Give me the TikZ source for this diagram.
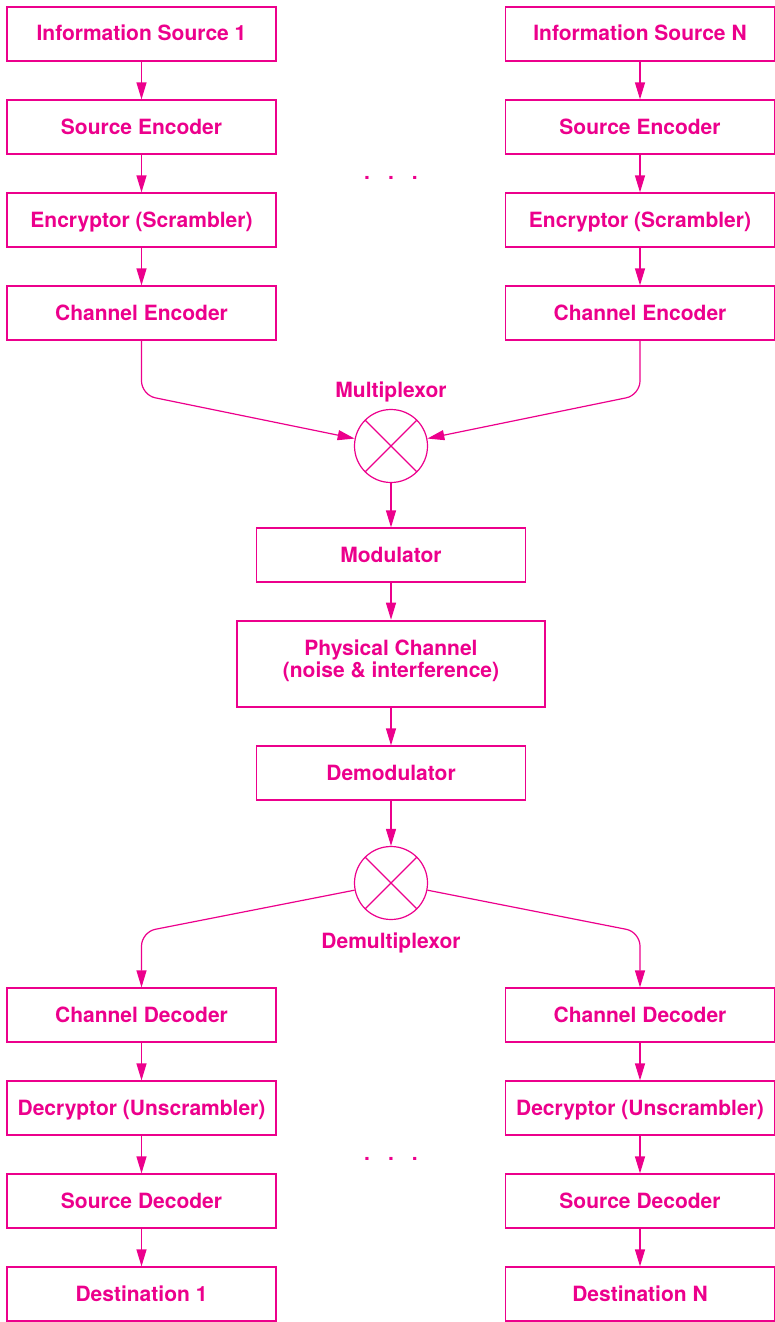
\documentclass[tikz,border=0pt]{standalone}
\usepackage{fontspec}
\setmainfont{TeX Gyre Heros}
\usetikzlibrary{arrows.meta}
\definecolor{kmag}{HTML}{EC008C}
\tikzset{
blk/.style={draw=kmag,text=kmag,line width=1.2pt,minimum width=269pt,minimum height=54pt,inner sep=0pt,align=center,text height=14pt,text depth=0pt,font=\fontsize{21}{22}\selectfont\bfseries},
mux/.style={draw=kmag,line width=1.2pt,circle,minimum size=73pt,inner sep=0pt},
lbl/.style={text=kmag,inner sep=0pt,font=\fontsize{21}{24}\selectfont\bfseries},
lnk/.style={draw=kmag,line width=1.2pt,rounded corners=14pt,-{Triangle[length=17pt,width=10pt]}}
}
\begin{document}
\begin{tikzpicture}[x=1pt,y=-1pt]
\useasboundingbox (0,0) rectangle (775,1322);
\pgfmathsetmacro{\kystep}{93}
\pgfmathsetmacro{\kmid}{391}
\foreach \kc/\kx/\klb in {a/141.5/1,b/640/N}{
\node[blk](\kc1) at (\kx,34){Information Source \klb};
\node[blk](\kc2) at (\kx,34+\kystep){Source Encoder};
\node[blk](\kc3) at (\kx,34+2*\kystep){Encryptor (Scrambler)};
\node[blk](\kc4) at (\kx,34+3*\kystep){Channel Encoder};
\node[blk](\kc5) at (\kx,1015){Channel Decoder};
\node[blk](\kc6) at (\kx,1015+\kystep){Decryptor (Unscrambler)};
\node[blk](\kc7) at (\kx,1015+2*\kystep){Source Decoder};
\node[blk](\kc8) at (\kx,1015+3*\kystep){Destination \klb};
\coordinate(\kc top) at (\kx,395);
\coordinate(\kc bot) at (\kx,932);
}
\node[lbl,anchor=base](dtop) at (\kmid,179){.\hspace{18pt}.\hspace{18pt}.};
\node[lbl,anchor=base](dbot) at (\kmid,1160){.\hspace{18pt}.\hspace{18pt}.};
\node[mux](mx) at (\kmid,446){};
\node[lbl](mxlb) at (\kmid,392){Multiplexor};
\node[blk](mod) at (\kmid,555){Modulator};
\node[blk,minimum width=308pt,minimum height=86pt,line width=2.6pt,text height=27pt](ch) at (\kmid,664){Physical Channel\\(noise \& interference)};
\node[blk](dem) at (\kmid,773){Demodulator};
\node[mux](dmx) at (\kmid,883){};
\node[lbl](dmxlb) at (\kmid,943){Demultiplexor};
\foreach \kn in {mx,dmx}{\draw[kmag,line width=1.2pt](\kn.45)--(\kn.225)(\kn.135)--(\kn.-45);}
\foreach \kc in {a,b}{
\foreach \ki/\kj in {1/2,2/3,3/4,5/6,6/7,7/8}{\draw[lnk](\kc\ki)--(\kc\kj);}
\draw[lnk](\kc4)--(\kc top)--(mx);
\draw[lnk](dmx)--(\kc bot)--(\kc5);
}
\draw[lnk](mx)--(mod);
\draw[lnk](mod)--(ch);
\draw[lnk](ch)--(dem);
\draw[lnk](dem)--(dmx);
\end{tikzpicture}
\end{document}
